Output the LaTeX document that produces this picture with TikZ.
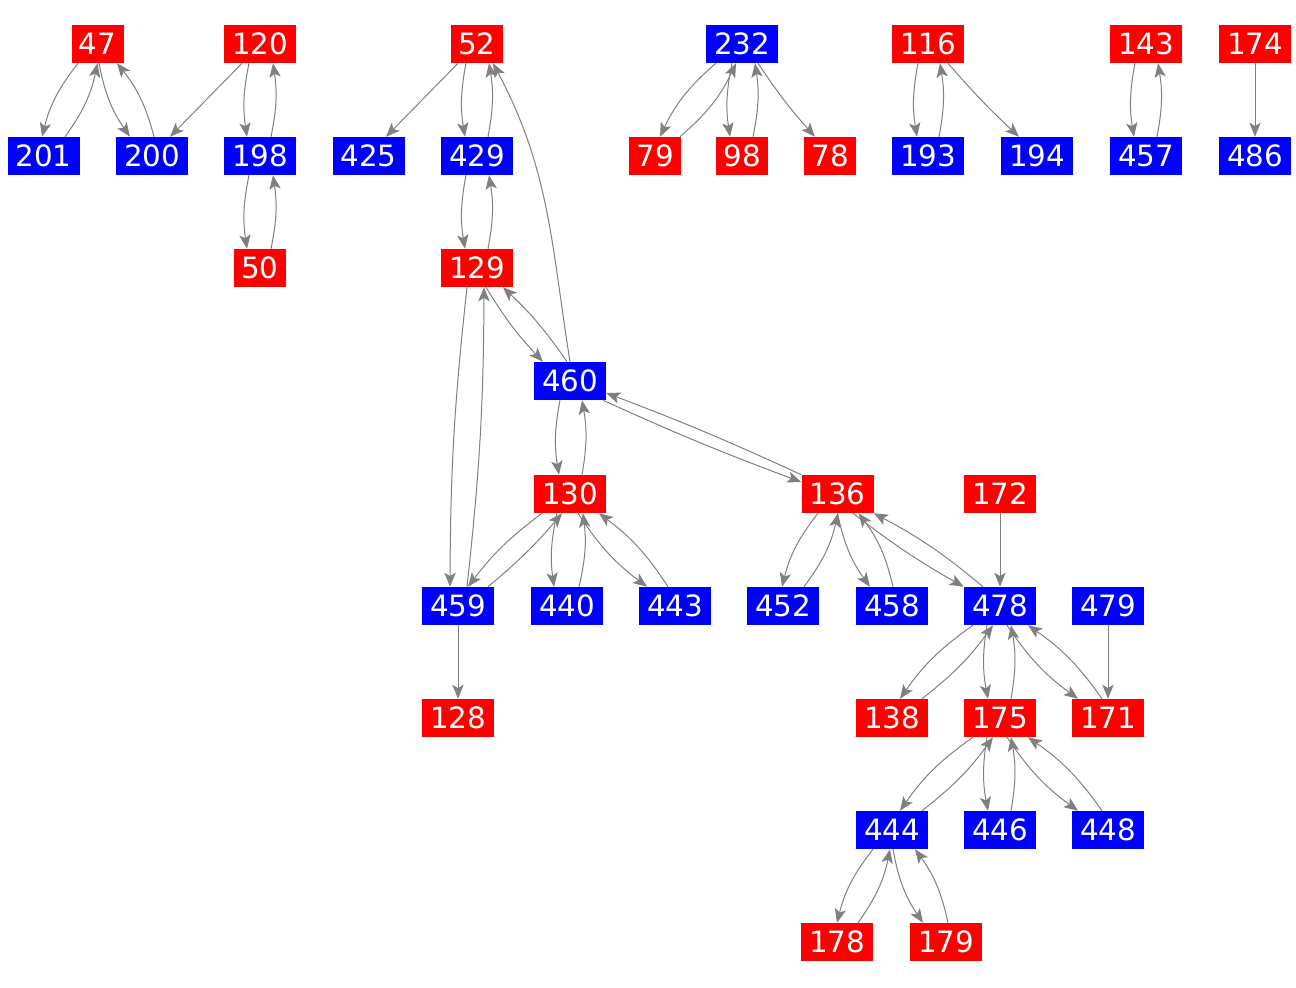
\documentclass[tikz,border=0pt]{standalone}
\usepackage{fontspec}
\setmainfont{DejaVu Sans}
\usetikzlibrary{arrows.meta,calc}
\definecolor{edgegray}{RGB}{128,128,128}
\definecolor{nodered}{RGB}{255,0,0}
\definecolor{nodeblue}{RGB}{0,0,255}
\newcommand\edgeAB[5]{\draw[conn] ($(#1)+(#2)$) to[#5] ($(#3)+(#4)$);}
\begin{document}
\begin{tikzpicture}[x=0.75pt,y=-0.75pt,
  basebox/.style={inner sep=0pt, minimum height=28.5pt, minimum width=54pt, text=white, font=\fontsize{22}{26}\selectfont},
  rnode/.style={basebox, fill=nodered},
  bnode/.style={basebox, fill=nodeblue},
  two/.style={minimum width=39pt},
  conn/.style={draw=edgegray, line width=0.75pt, -{Stealth[length=10.5pt,width=8.5pt,inset=2.5pt]}}]
\useasboundingbox (0,0) rectangle (1296,988);
% row 1
\node[rnode,two] (n47) at (97.5,44) {47};
\node[rnode] (n120) at (260,44) {120};
\node[rnode,two] (n52) at (477,44) {52};
\node[bnode] (n232) at (742,44) {232};
\node[rnode] (n116) at (928,44) {116};
\node[rnode] (n143) at (1146,44) {143};
\node[rnode] (n174) at (1255,44) {174};
% row 2
\node[bnode] (n201) at (43.5,156) {201};
\node[bnode] (n200) at (152,156) {200};
\node[bnode] (n198) at (260,156) {198};
\node[bnode] (n425) at (368.5,156) {425};
\node[bnode] (n429) at (477,156) {429};
\node[rnode,two] (n79) at (655,156) {79};
\node[rnode,two] (n98) at (742,156) {98};
\node[rnode,two] (n78) at (830,156) {78};
\node[bnode] (n193) at (928,156) {193};
\node[bnode] (n194) at (1037,156) {194};
\node[bnode] (n457) at (1146,156) {457};
\node[bnode] (n486) at (1255,156) {486};
% row 3
\node[rnode,two] (n50) at (260,268) {50};
\node[rnode] (n129) at (477,268) {129};
% row 4
\node[bnode] (n460) at (570,381) {460};
% row 5
\node[rnode] (n130) at (570,494) {130};
\node[rnode] (n136) at (837.5,494) {136};
\node[rnode] (n172) at (1000,494) {172};
% row 6
\node[bnode] (n459) at (458,606) {459};
\node[bnode] (n440) at (567,606) {440};
\node[bnode] (n443) at (675,606) {443};
\node[bnode] (n452) at (783,606) {452};
\node[bnode] (n458) at (892,606) {458};
\node[bnode] (n478) at (1000,606) {478};
\node[bnode] (n479) at (1108,606) {479};
% row 7
\node[rnode] (n128) at (458,718) {128};
\node[rnode] (n138) at (892,718) {138};
\node[rnode] (n175) at (1000,718) {175};
\node[rnode] (n171) at (1108,718) {171};
% row 8
\node[bnode] (n444) at (892,830) {444};
\node[bnode] (n446) at (1000,830) {446};
\node[bnode] (n448) at (1108,830) {448};
% row 9
\node[rnode] (n178) at (837,942) {178};
\node[rnode] (n179) at (946,942) {179};

% component 1
\edgeAB{n47.south}{-19.5,0}{n201.north}{-1.5,0}{bend right=12}
\edgeAB{n201.north}{21.5,0}{n47.south}{0,0}{bend right=12}
\edgeAB{n47.south}{1.5,0}{n200.north}{-22,0}{bend right=12}
\edgeAB{n200.north}{2,0}{n47.south}{19.5,0}{bend right=12}
\edgeAB{n120.south}{-18,0}{n200.north}{18,0}{}
\edgeAB{n120.south}{-11,0}{n198.north}{-13,0}{bend right=10}
\edgeAB{n198.north}{11,0}{n120.south}{13,0}{bend right=10}
\edgeAB{n198.south}{-11,0}{n50.north}{-13,0}{bend right=10}
\edgeAB{n50.north}{11,0}{n198.south}{13,0}{bend right=10}
% component 3
\edgeAB{n232.south}{-26,0}{n79.north}{5,0}{bend right=12}
\edgeAB{n79.north}{25,0}{n232.south}{-6,0}{bend right=12}
\edgeAB{n232.south}{-10,0}{n98.north}{-12,0}{bend right=10}
\edgeAB{n98.north}{11,0}{n232.south}{13,0}{bend right=10}
\edgeAB{n232.south}{16,0}{n78.north}{-15,0}{bend right=4}
% component 4
\edgeAB{n116.south}{-10,0}{n193.north}{-11,0}{bend right=10}
\edgeAB{n193.north}{11,0}{n116.south}{12,0}{bend right=10}
\edgeAB{n116.south}{20,0}{n194.north}{-18,0}{bend right=3}
% component 5
\edgeAB{n143.south}{-11,0}{n457.north}{-12,0}{bend right=10}
\edgeAB{n457.north}{11,0}{n143.south}{12,0}{bend right=10}
% component 6
\edgeAB{n174.south}{0,0}{n486.north}{0,0}{}
% component 2
\edgeAB{n52.south}{-19,0}{n425.north}{17.5,0}{}
\edgeAB{n52.south}{-11,0}{n429.north}{-12,0}{bend right=10}
\edgeAB{n429.north}{11,0}{n52.south}{12,0}{bend right=10}
\edgeAB{n460.north}{0,0}{n52.south}{16,0}{out=99,in=-62}
\edgeAB{n429.south}{-11,0}{n129.north}{-12,0}{bend right=10}
\edgeAB{n129.north}{11,0}{n429.south}{12,0}{bend right=10}
\edgeAB{n129.south}{9,0}{n460.north}{-27,0}{bend right=6}
\edgeAB{n460.north}{-3,0}{n129.south}{26,0}{bend right=6}
\edgeAB{n129.south}{-10,0}{n459.north}{-8,0}{bend right=3}
\edgeAB{n459.north}{9,0}{n129.south}{7,0}{bend right=3}
\edgeAB{n460.south}{-10,0}{n130.north}{-11,0}{bend right=10}
\edgeAB{n130.north}{12,0}{n460.south}{12,0}{bend right=10}
\edgeAB{n460.south}{33,0}{n136.west}{0,-12}{bend right=2}
\edgeAB{n136.north west}{0,0}{n460.east}{0,12}{bend right=2}
\edgeAB{n130.south}{-28,0}{n459.north}{10,0}{bend right=8}
\edgeAB{n459.north}{30,0}{n130.south}{-8,0}{bend right=5}
\edgeAB{n130.south}{-13,0}{n440.north}{-13,0}{bend right=10}
\edgeAB{n440.north}{12,0}{n130.south}{13,0}{bend right=10}
\edgeAB{n130.south}{8,0}{n443.north}{-28,0}{bend right=10}
\edgeAB{n443.north}{-7,0}{n130.south}{29,0}{bend right=10}
\edgeAB{n136.south}{-19.5,0}{n452.north}{-1,0}{bend right=12}
\edgeAB{n452.north}{21,0}{n136.south}{0.5,0}{bend right=12}
\edgeAB{n136.south}{0,0}{n458.north}{-22,0}{bend right=12}
\edgeAB{n458.north}{1,0}{n136.south}{21,0}{bend right=12}
\edgeAB{n136.south}{15.5,0}{n478.north west}{0,0}{bend right=4}
\edgeAB{n478.north}{-17,0}{n136.south east}{0,0}{bend right=6}
\edgeAB{n172.south}{0,0}{n478.north}{0,0}{}
\edgeAB{n459.south}{0,0}{n128.north}{0,0}{}
\edgeAB{n478.south}{-27,0}{n138.north}{8,0}{bend right=10}
\edgeAB{n138.north}{30,0}{n478.south}{-7,0}{bend right=8}
\edgeAB{n478.south}{-13,0}{n175.north}{-12,0}{bend right=10}
\edgeAB{n175.north}{11,0}{n478.south}{11,0}{bend right=10}
\edgeAB{n478.south}{7,0}{n171.north}{-30,0}{bend right=10}
\edgeAB{n171.north}{-6,0}{n478.south}{28,0}{bend right=10}
\edgeAB{n479.south}{0,0}{n171.north}{0,0}{}
\edgeAB{n175.south}{-27,0}{n444.north}{8,0}{bend right=10}
\edgeAB{n444.north}{30,0}{n175.south}{-7,0}{bend right=8}
\edgeAB{n175.south}{-13,0}{n446.north}{-12,0}{bend right=10}
\edgeAB{n446.north}{11,0}{n175.south}{11,0}{bend right=10}
\edgeAB{n175.south}{7,0}{n448.north}{-30,0}{bend right=10}
\edgeAB{n448.north}{-6,0}{n175.south}{28,0}{bend right=10}
\edgeAB{n444.south}{-19,0}{n178.north}{0,0}{bend right=12}
\edgeAB{n178.north}{21,0}{n444.south}{-2,0}{bend right=12}
\edgeAB{n444.south}{1,0}{n179.north}{-23,0}{bend right=12}
\edgeAB{n179.north}{2,0}{n444.south}{23,0}{bend right=12}
\end{tikzpicture}
\end{document}
